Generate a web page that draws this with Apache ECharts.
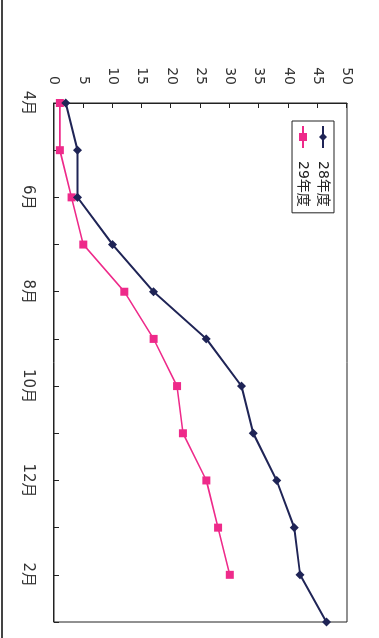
<!DOCTYPE html>
<html>
<head>
<meta charset="utf-8">
<script src="https://cdn.jsdelivr.net/npm/echarts@6/dist/echarts.min.js"></script>
<style>
  html, body { margin:0; padding:0; background:#fff; width:379px; height:638px; overflow:hidden; }
  #frame { position:absolute; left:1px; top:0; width:2px; height:638px; background:#444; z-index:10; }
  #chart { position:absolute; left:379px; top:0; width:638px; height:379px;
           transform-origin:0 0; transform:rotate(90deg); z-index:1; }
</style>
</head>
<body>
<div id="chart"></div>
<div id="frame"></div>
<script>
const months = ['4月','5月','6月','7月','8月','9月','10月','11月','12月','1月','2月','3月'];
const seriesNames = ['28年度','29年度'];
const values28 = [2, 4, 4, 10, 17, 26, 32, 34, 38, 41, 42, 46.5];
const values29 = [1, 1, 3, 5, 12, 17, 21, 22, 26, 28, 30, null];
const valueMin = 0, valueMax = 50, valueStep = 5;

const chart = echarts.init(document.getElementById('chart'), null, {renderer:'canvas'});
const navy = '#1f2456';
const pink = '#ee2a8a';
const font = '"DejaVu Sans", "Noto Sans CJK JP", sans-serif';

chart.setOption({
  animation: false,
  backgroundColor: '#fff',
  textStyle: { fontFamily: font },
  grid: { left: 103, right: 16, top: 32, bottom: 54, show: true, borderColor: '#222', borderWidth: 1, backgroundColor: 'transparent' },
  legend: {
    orient: 'vertical',
    left: 121, top: 45,
    padding: [4, 6, 4, 4],
    itemGap: 6,
    itemWidth: 22, itemHeight: 10,
    borderColor: '#222', borderWidth: 1,
    textStyle: { fontSize: 14, color: '#222', fontFamily: font, padding: [0,0,0,8] },
    data: seriesNames
  },
  xAxis: {
    type: 'category',
    data: months,
    boundaryGap: false,
    axisLine: { show: true, lineStyle: { color: '#222', width: 1 } },
    axisTick: { show: true, inside: true, length: 5, interval: 0, lineStyle: { color: '#222' } },
    axisLabel: { interval: 1, margin: 19, fontSize: 15, color: '#333', fontFamily: font },
    splitLine: { show: false }
  },
  yAxis: {
    type: 'value',
    min: valueMin, max: valueMax, interval: valueStep,
    axisLine: { show: true, lineStyle: { color: '#222', width: 1 } },
    axisTick: { show: true, inside: true, length: 5, lineStyle: { color: '#222' } },
    axisLabel: { margin: 18, fontSize: 14, color: '#333', fontFamily: font },
    splitLine: { show: false }
  },
  series: [
    {
      name: seriesNames[0], type: 'line', data: values28,
      symbol: 'diamond', symbolSize: 9,
      lineStyle: { color: navy, width: 2 },
      itemStyle: { color: navy },
      z: 3
    },
    {
      name: seriesNames[1], type: 'line', data: values29,
      symbol: 'rect', symbolSize: 8,
      lineStyle: { color: pink, width: 1.6 },
      itemStyle: { color: pink },
      z: 2
    }
  ]
});
</script>
</body>
</html>
